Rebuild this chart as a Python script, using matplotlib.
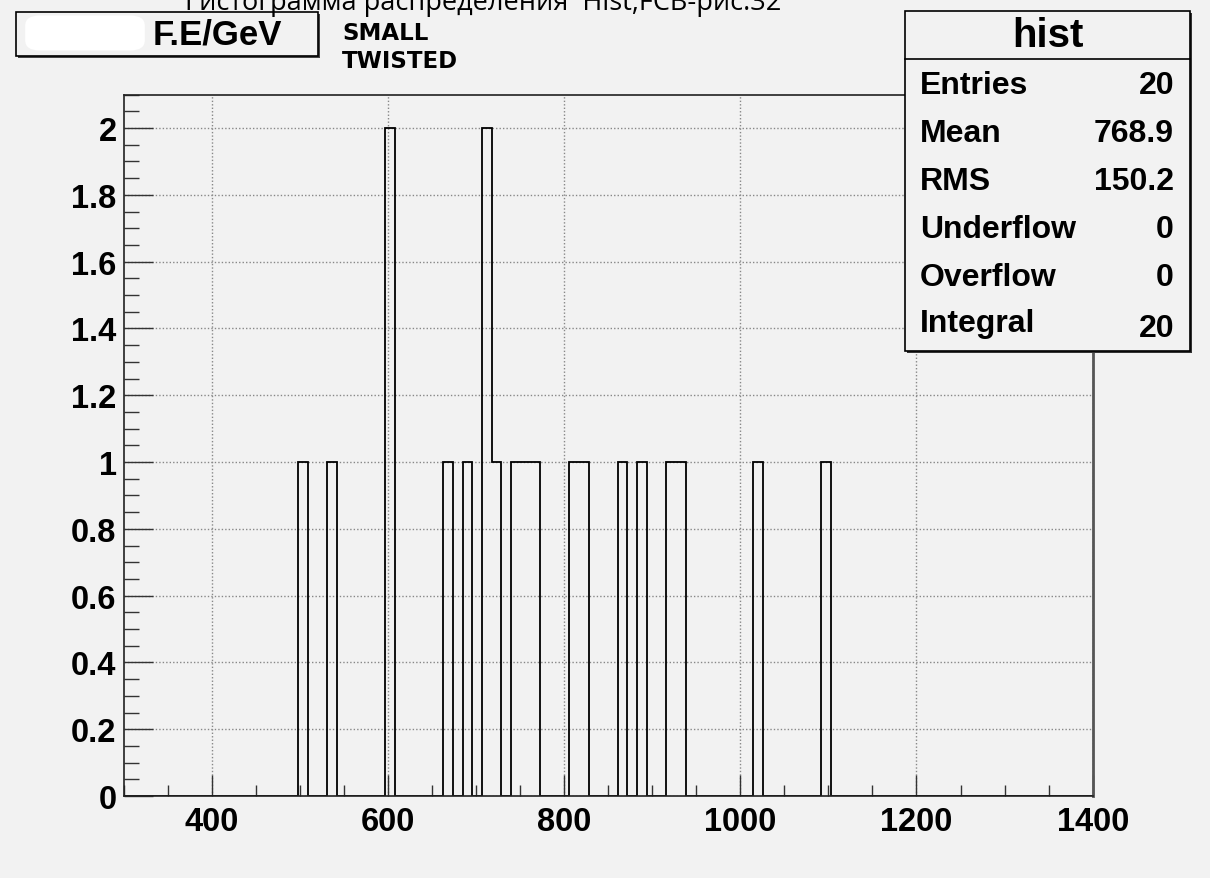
import numpy as np
import matplotlib
matplotlib.use("Agg")
import matplotlib.pyplot as plt
from matplotlib.patches import Rectangle, FancyBboxPatch
from matplotlib.ticker import MultipleLocator

# ---- data ----
x_min, x_max, n_bins = 300, 1400, 100
bin_low_edges = [498, 531, 597, 663, 685, 707, 718, 740, 751, 762,
                 806, 817, 861, 883, 916, 927, 1015, 1091]
bin_counts = [1, 1, 2, 1, 1, 2, 1, 1, 1, 1,
              1, 1, 1, 1, 1, 1, 1, 1]
y_max = 2.1
x_ticks = [400, 600, 800, 1000, 1200, 1400]
y_ticks = [0, 0.2, 0.4, 0.6, 0.8, 1, 1.2, 1.4, 1.6, 1.8, 2]
y_tick_labels = ["0", "0.2", "0.4", "0.6", "0.8", "1", "1.2", "1.4", "1.6", "1.8", "2"]
title_text = "Гистограмма распределения  Hist,FCB-рис.32"
unit_text = "F.E/GeV"
note_lines = ["SMALL", "TWISTED"]
stats_name = "hist"
stats_labels = ["Entries", "Mean", "RMS", "Underflow", "Overflow", "Integral"]
stats_values = ["20", "768.9", "150.2", "0", "0", "20"]

W, H = 1210, 879
BG = "#f2f2f2"
fig = plt.figure(figsize=(W / 100, H / 100), dpi=100, facecolor=BG)

def fx(px):
    return px / W

def fy(py):
    return 1 - py / H

ax_l, ax_r, ax_t, ax_b = 123.5, 1092.7, 95.7, 797
ax = fig.add_axes([fx(ax_l), fy(ax_b), fx(ax_r) - fx(ax_l), fy(ax_t) - fy(ax_b)])
ax.set_facecolor(BG)

edges = np.linspace(x_min, x_max, n_bins + 1)
width = (x_max - x_min) / n_bins
centers = np.array(bin_low_edges) + width / 2
ax.hist(centers, bins=edges, weights=bin_counts, histtype="step",
        color="black", linewidth=1.3)

ax.set_xlim(x_min, x_max)
ax.set_ylim(0, y_max)
ax.set_xticks(x_ticks)
ax.set_xticklabels([str(t) for t in x_ticks])
ax.set_yticks(y_ticks)
ax.set_yticklabels(y_tick_labels)
ax.xaxis.set_minor_locator(MultipleLocator(50))
ax.yaxis.set_minor_locator(MultipleLocator(0.05))

for lab in ax.get_xticklabels() + ax.get_yticklabels():
    lab.set_fontfamily("Liberation Sans")
    lab.set_fontweight("bold")
    lab.set_fontsize(23.5)

ax.tick_params(axis="y", which="major", direction="in", length=21, width=1, pad=5, color="#333333")
ax.tick_params(axis="y", which="minor", direction="in", length=10.5, width=1, color="#333333")
ax.tick_params(axis="x", which="major", direction="in", length=15, width=1, pad=7, color="#333333")
ax.tick_params(axis="x", which="minor", direction="in", length=8, width=1, color="#333333")
ax.tick_params(right=False, top=False, which="both")

ax.grid(True, which="major", linestyle=(0, (1, 1.5)), color="#888888", linewidth=1)
ax.set_axisbelow(True)
for s in ax.spines.values():
    s.set_color("#222222")
    s.set_linewidth(1.2)
ax.spines["right"].set_linewidth(2)
ax.spines["right"].set_color("#555555")

# ---- title (partly cut off at top, as in the reference) ----
fig.text(fx(185), fy(10), title_text, ha="left", va="baseline",
         fontsize=19.5, family="Open Sans", color="black")

# ---- unit box ----
bx0, bx1, by0, by1 = 15.7, 318, 12.7, 56.7
fig.patches.append(Rectangle((fx(bx0) + 0.002, fy(by1) - 0.003), fx(bx1) - fx(bx0), fy(by0) - fy(by1),
                             transform=fig.transFigure, facecolor="#444444", edgecolor="none", zorder=1))
fig.patches.append(Rectangle((fx(bx0), fy(by1)), fx(bx1) - fx(bx0), fy(by0) - fy(by1),
                             transform=fig.transFigure, facecolor=BG, edgecolor="black",
                             linewidth=1.2, zorder=2))
fig.patches.append(FancyBboxPatch((fx(30), fy(48)), fx(140) - fx(30), fy(20) - fy(48),
                                  boxstyle="round,pad=0.004,rounding_size=0.012",
                                  transform=fig.transFigure, facecolor="white",
                                  edgecolor="none", zorder=3))
fig.text(fx(282), fy(35), unit_text, ha="right", va="center", fontsize=25,
         family="Liberation Sans", weight="bold", zorder=4)

fig.text(fx(342), fy(33), note_lines[0], ha="left", va="center", fontsize=16.5,
         family="DejaVu Sans", weight="bold")
fig.text(fx(342), fy(61), note_lines[1], ha="left", va="center", fontsize=16.5,
         family="DejaVu Sans", weight="bold")

# ---- stats box ----
sx0, sx1, sy0, sy1 = 905, 1190, 11.7, 351.7
fig.patches.append(Rectangle((fx(sx0) + 0.0018, fy(sy1) - 0.0025), fx(sx1) - fx(sx0), fy(sy0) - fy(sy1),
                             transform=fig.transFigure, facecolor="#333333", edgecolor="none", zorder=5))
fig.patches.append(Rectangle((fx(sx0), fy(sy1)), fx(sx1) - fx(sx0), fy(sy0) - fy(sy1),
                             transform=fig.transFigure, facecolor=BG, edgecolor="black",
                             linewidth=1.2, zorder=6))
fig.add_artist(plt.Line2D([fx(sx0), fx(sx1)], [fy(60), fy(60)], transform=fig.transFigure,
                          color="black", linewidth=1.2, zorder=7))
fig.text(fx((sx0 + sx1) / 2), fy(36), stats_name, ha="center", va="center", fontsize=29,
         family="Liberation Sans", weight="bold", zorder=8)
row_y = [86, 134, 182, 230, 278, 324]
val_y = [86, 134, 182, 230, 278, 329]
for lab, val, ry, vy in zip(stats_labels, stats_values, row_y, val_y):
    fig.text(fx(920), fy(ry), lab, ha="left", va="center", fontsize=23,
             family="Liberation Sans", weight="bold", zorder=8)
    fig.text(fx(1174), fy(vy), val, ha="right", va="center", fontsize=23,
             family="Liberation Sans", weight="bold", zorder=8)

fig.savefig("out.png", dpi=100, facecolor=BG)
